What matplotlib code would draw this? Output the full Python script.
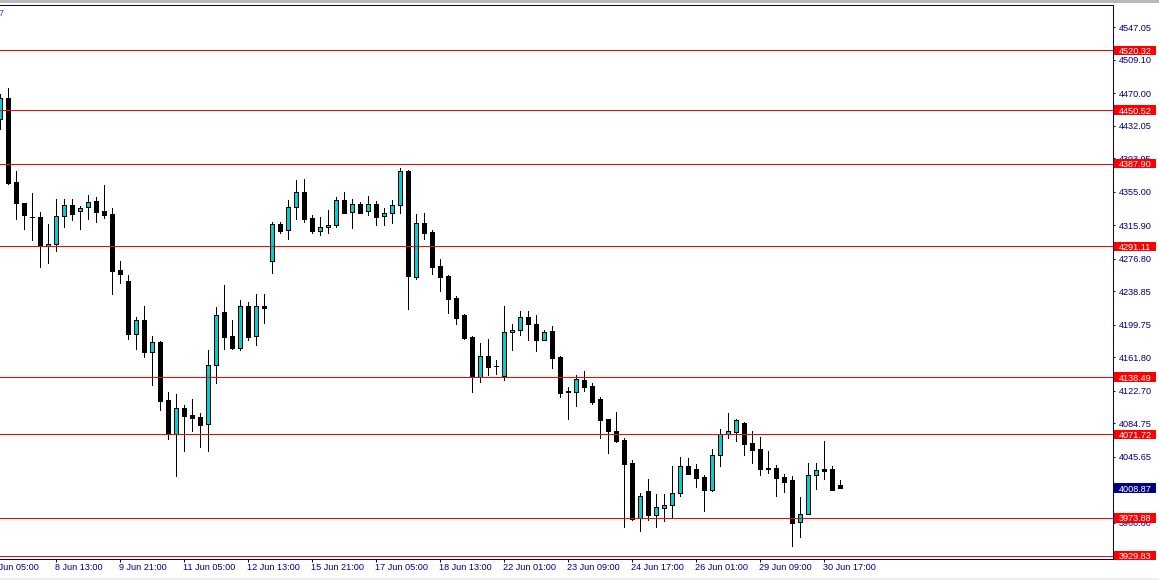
import matplotlib
matplotlib.use('Agg')
import matplotlib.pyplot as plt
import matplotlib.transforms as mtransforms
from matplotlib.patches import Rectangle
import numpy as np

# ---------------- data (H4 candles) ----------------
opens = [4439.7, 4464.2, 4366.1, 4341.6, 4325.5, 4325.2, 4291.7, 4293.6, 4326.4, 4339.2,
         4332.2, 4336.9, 4343.9, 4332.2, 4329.1, 4263.3, 4250.8, 4188.5, 4204.9, 4168.2,
         4179.5, 4111.7, 4071.7, 4102.0, 4093.9, 4091.9, 4083.3, 4152.3, 4214.2, 4186.2,
         4172.8, 4221.6, 4186.2, 4221.2, 4273.8, 4317.0, 4310.0, 4336.9, 4354.4, 4324.0,
         4308.8, 4313.5, 4315.9, 4345.1, 4331.0, 4340.4, 4332.2, 4340.4, 4326.4, 4329.9,
         4339.2, 4378.9, 4255.8, 4318.2, 4308.0, 4267.9, 4256.6, 4230.9, 4211.0, 4185.0,
         4138.6, 4162.8, 4151.3, 4140.1, 4190.8, 4193.2, 4208.4, 4200.5, 4182.2, 4192.0,
         4162.0, 4121.7, 4121.4, 4135.1, 4128.1, 4112.9, 4089.5, 4075.5, 4064.6, 4038.1,
         3973.5, 4005.1, 3977.0, 3985.9, 3988.7, 4002.7, 4034.6, 4031.1, 4021.8, 4006.9,
         4047.1, 4072.4, 4074.7, 4084.9, 4061.5, 4054.5, 4032.3, 4031.9, 4021.4, 4017.9,
         3968.8, 3978.2, 4023.8, 4030.8, 4030.8, 4012.1]
highs = [4469.3, 4476.6, 4379.3, 4342.0, 4353.6, 4331.4, 4317.4, 4346.2, 4346.2, 4346.2,
         4338.4, 4350.9, 4348.6, 4362.9, 4335.7, 4274.1, 4257.4, 4208.4, 4221.6, 4186.5,
         4180.7, 4120.7, 4118.7, 4105.9, 4112.9, 4096.2, 4170.2, 4220.4, 4246.1, 4205.2,
         4228.6, 4225.9, 4235.6, 4235.6, 4319.7, 4319.7, 4345.1, 4368.8, 4370.0, 4327.5,
         4325.6, 4333.4, 4348.9, 4354.8, 4346.2, 4342.7, 4349.7, 4344.2, 4335.7, 4345.1,
         4382.5, 4379.9, 4329.1, 4330.2, 4310.4, 4276.5, 4257.4, 4232.9, 4212.6, 4186.2,
         4178.3, 4183.0, 4158.5, 4221.6, 4200.5, 4215.7, 4215.7, 4211.4, 4193.5, 4198.2,
         4162.8, 4126.6, 4140.6, 4145.6, 4131.3, 4115.2, 4089.5, 4097.7, 4067.3, 4041.3,
         4002.7, 4019.4, 4001.9, 4001.9, 4034.6, 4044.8, 4044.3, 4037.0, 4024.1, 4054.5,
         4077.9, 4096.5, 4089.5, 4086.0, 4075.5, 4068.5, 4052.1, 4035.8, 4025.3, 4022.6,
         3998.4, 4038.1, 4038.1, 4063.8, 4034.3, 4017.9]
lows = [4428.0, 4364.5, 4322.9, 4311.2, 4299.0, 4267.5, 4272.2, 4286.2, 4314.2, 4322.4,
        4311.9, 4323.2, 4320.1, 4324.7, 4235.9, 4248.8, 4183.4, 4171.7, 4161.6, 4129.6,
        4100.4, 4066.5, 4023.3, 4052.5, 4075.9, 4057.2, 4052.5, 4131.3, 4171.0, 4171.3,
        4169.8, 4182.2, 4176.3, 4201.3, 4260.5, 4307.2, 4300.2, 4323.6, 4320.1, 4306.5,
        4304.9, 4307.2, 4313.5, 4330.2, 4313.0, 4329.9, 4328.2, 4316.6, 4316.6, 4318.9,
        4330.6, 4218.4, 4253.5, 4300.2, 4259.3, 4239.4, 4213.7, 4200.9, 4183.4, 4121.4,
        4132.4, 4140.9, 4142.1, 4135.5, 4170.2, 4188.0, 4182.2, 4169.3, 4181.8, 4149.5,
        4114.9, 4089.9, 4105.1, 4122.3, 4107.4, 4067.7, 4050.2, 4063.0, 3963.7, 3971.5,
        3959.0, 3971.9, 3963.0, 3970.7, 3973.9, 3999.2, 4025.3, 4010.4, 3982.4, 4005.8,
        4035.0, 4067.7, 4064.2, 4047.8, 4038.5, 4024.5, 4026.8, 3999.9, 4004.6, 3941.5,
        3952.0, 3978.2, 4008.1, 4019.4, 4006.2, 4008.5]
closes = [4464.2, 4365.6, 4341.6, 4328.2, 4325.0, 4291.7, 4293.6, 4326.4, 4339.2, 4329.4,
          4335.7, 4342.7, 4331.7, 4328.2, 4262.8, 4259.3, 4188.5, 4204.9, 4168.2, 4179.2,
          4110.9, 4071.7, 4102.0, 4093.4, 4091.0, 4082.9, 4152.3, 4210.7, 4185.7, 4172.8,
          4221.2, 4185.7, 4221.2, 4218.9, 4317.0, 4309.5, 4336.9, 4354.4, 4323.6, 4308.8,
          4313.5, 4315.9, 4345.1, 4330.6, 4340.4, 4330.6, 4340.4, 4325.9, 4329.9, 4339.2,
          4378.9, 4257.0, 4318.2, 4307.2, 4267.5, 4255.8, 4230.1, 4207.9, 4184.2, 4138.6,
          4162.8, 4150.6, 4150.9, 4190.8, 4193.2, 4208.4, 4200.2, 4182.2, 4190.8, 4161.2,
          4120.3, 4120.5, 4136.3, 4127.3, 4109.7, 4088.7, 4075.9, 4064.2, 4037.3, 3972.3,
          3999.2, 3977.0, 3986.4, 3988.7, 4002.7, 4034.3, 4025.6, 4020.9, 4006.9, 4047.1,
          4072.4, 4075.2, 4088.0, 4060.7, 4053.7, 4031.5, 4031.1, 4020.9, 4016.3, 3968.4,
          3978.2, 4023.8, 4029.6, 4029.1, 4006.9, 4008.87]

level_prices = [4520.32, 4450.52, 4387.90, 4291.11, 4138.49, 4071.72, 3973.88, 3929.83]
current_price = 4008.87

y_ticks = [4547.05, 4509.10, 4470.00, 4432.05, 4393.95, 4355.00, 4315.90, 4276.80,
           4238.85, 4199.75, 4161.80, 4122.70, 4084.75, 4045.65, 4007.70, 3968.60]

x_tick_bars = [-1, 7, 15, 23, 31, 39, 47, 55, 63, 71, 79, 87, 95, 103]
x_tick_labels = ['5 Jun 05:00', '8 Jun 13:00', '9 Jun 21:00', '11 Jun 05:00', '12 Jun 13:00',
                 '15 Jun 21:00', '17 Jun 05:00', '18 Jun 13:00', '22 Jun 01:00',
                 '23 Jun 09:00', '24 Jun 17:00', '26 Jun 01:00', '29 Jun 09:00',
                 '30 Jun 17:00']

# ---------------- styling ----------------
W, H = 1159, 580
NAVY = '#000080'
BULL = '#00CED1'
FONT = 'Liberation Sans'
FS = 6.6
PX = 0.72  # one pixel in points

plt.rcParams['font.family'] = [FONT, 'DejaVu Sans']

fig = plt.figure(figsize=(W / 100, H / 100), dpi=100)
fig.patch.set_facecolor('white')

ax_top, ax_bot, ax_right = 5.0, 558.5, 1113.0
ax = fig.add_axes([0, (H - ax_bot) / H, ax_right / W, (ax_bot - ax_top) / H])
ax.set_facecolor('white')

ymin, ymax = 3926.54, 4573.25
ax.set_ylim(ymin, ymax)
ax.set_xlim(-0.3 / 8, (ax_right - 0.3) / 8)

o = np.array(opens); h = np.array(highs); l = np.array(lows); c = np.array(closes)
x = np.arange(len(o))
bull = c > o
colors = [BULL if b else 'black' for b in bull]

ax.vlines(x, l, h, color='black', linewidth=PX, zorder=2, antialiased=False)
ax.bar(x, np.abs(c - o), bottom=np.minimum(o, c), width=0.5, color=colors,
       edgecolor='black', linewidth=PX, zorder=3, antialiased=False)

for p in level_prices:
    ax.axhline(p, color='#FF0000', linewidth=PX, zorder=4, antialiased=False)

# spines
for side in ['top', 'right', 'bottom']:
    ax.spines[side].set_color(NAVY)
    ax.spines[side].set_linewidth(PX)
ax.spines['left'].set_visible(False)

# y axis on the right
ax.yaxis.tick_right()
ax.set_yticks(y_ticks)
ax.set_yticklabels([f'{v:.2f}' for v in y_ticks])
ax.tick_params(axis='y', direction='out', length=2.2 * PX, width=PX, colors=NAVY,
               pad=3.2 * PX, labelsize=FS)
for t in ax.get_yticklabels():
    t.set_fontfamily(FONT)
    t.set_color(NAVY)

# x axis ticks
ax.set_xticks(x_tick_bars[1:])
ax.set_xticklabels([''] * len(x_tick_bars[1:]))
ax.tick_params(axis='x', direction='out', length=3.3 * PX, width=PX, colors=NAVY)

base = mtransforms.blended_transform_factory(ax.transData, fig.transFigure)
shift = mtransforms.ScaledTranslation(-1.3 / 100, 0, fig.dpi_scale_trans)
for b, lab in zip(x_tick_bars, x_tick_labels):
    ax.text(b, (H - 570.3) / H, lab, transform=base + shift, ha='left', va='baseline',
            fontsize=FS, color=NAVY, fontfamily=FONT, clip_on=False)

# price labels on the right
px_per_price = (ax_bot - ax_top) / (ymax - ymin)
half_h = 4.6 / px_per_price
lab_tr = mtransforms.blended_transform_factory(fig.transFigure, ax.transData)


def price_box(p, face):
    ax.add_patch(Rectangle((1114.3 / W, p - half_h), 41.7 / W, 2 * half_h, transform=lab_tr,
                           facecolor=face, edgecolor='none', clip_on=False, zorder=10))
    ax.text(1118.8 / W, p, f'{p:.2f}', transform=lab_tr, ha='left', va='center_baseline',
            fontsize=FS, color='white', fontfamily=FONT, clip_on=False, zorder=11)


for p in level_prices:
    price_box(p, '#FF0000')
price_box(current_price, NAVY)

# window chrome
fig.add_artist(Rectangle((0, (H - 2.5) / H), 1, 2.5 / H, transform=fig.transFigure,
                         facecolor='#B9B9B9', edgecolor='none'))
fig.add_artist(Rectangle((0, 0), 1, 2.5 / H, transform=fig.transFigure,
                         facecolor='#EDEDED', edgecolor='none'))
fig.text(3.5 / W, (H - 13) / H, '7', ha='right', va='center', fontsize=FS,
         color='#3C3CD0', fontfamily=FONT)

fig.savefig('out.png', dpi=100, facecolor='white')
